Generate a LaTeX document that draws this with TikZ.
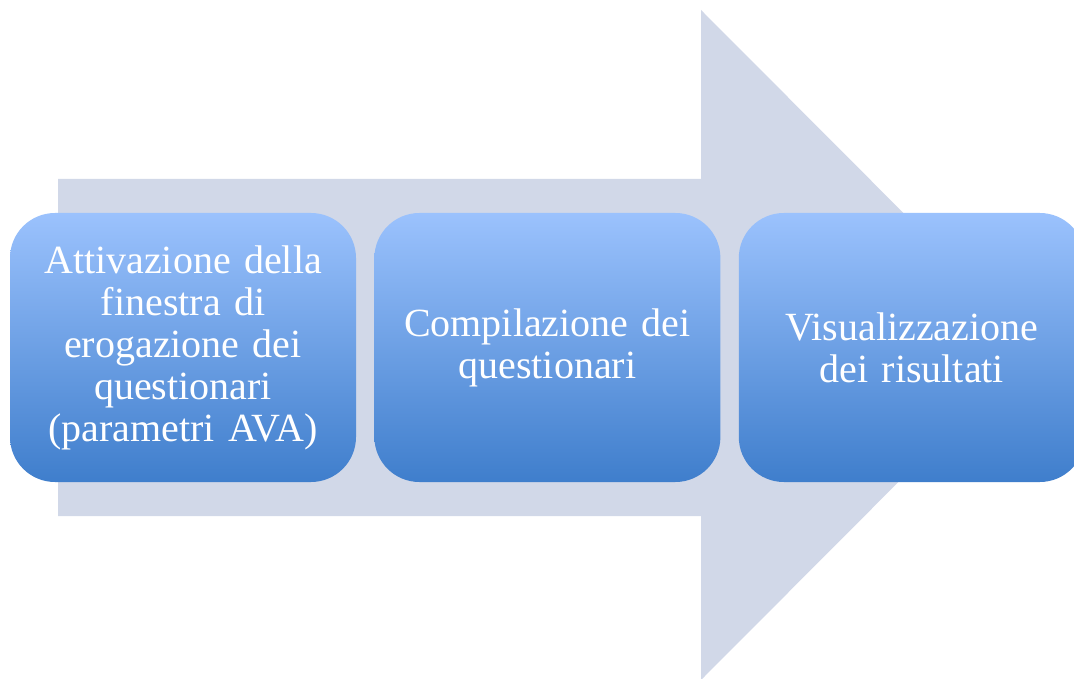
\documentclass[tikz,border=0pt]{standalone}
\usepackage{fontspec}
\setmainfont{Liberation Serif}
\usetikzlibrary{positioning}
\definecolor{arrowgray}{RGB}{209,216,232}
\definecolor{boxtop}{RGB}{155,194,253}
\definecolor{boxbottom}{RGB}{63,126,204}
\tikzset{stepbox/.style={rectangle, rounded corners=45pt, minimum width=346pt, minimum height=269pt, text width=340pt, align=center, top color=boxtop, bottom color=boxbottom, text=white, font=\fontsize{40}{42}\selectfont, inner sep=0pt}}

\begin{document}
\begin{tikzpicture}[x=1pt, y=-1pt]
	%%%%% START %%%%%
	
	\useasboundingbox (0, 0) rectangle (1074, 679);
	\clip (0, 0) rectangle (1074, 679);
	\fill[white] (0, 0) rectangle (1074, 679);
	
	\fill[arrowgray] (58, 179) -- (701, 179) -- (701, 10) -- (1035, 345) -- (701, 680) -- (701, 516) -- (58, 516) -- cycle;
	
	\node[stepbox] (attivazione) at (183, 347.5) {Attivazione della\\finestra di\\erogazione dei\\questionari\\(parametri AVA)};
	\node[stepbox, right=18pt of attivazione] (compilazione) {Compilazione dei\\questionari};
	\node[stepbox, right=18pt of compilazione] (visualizzazione) {Visualizzazione\\dei risultati};
	
	%%%%% END %%%%%
\end{tikzpicture}
\end{document}
